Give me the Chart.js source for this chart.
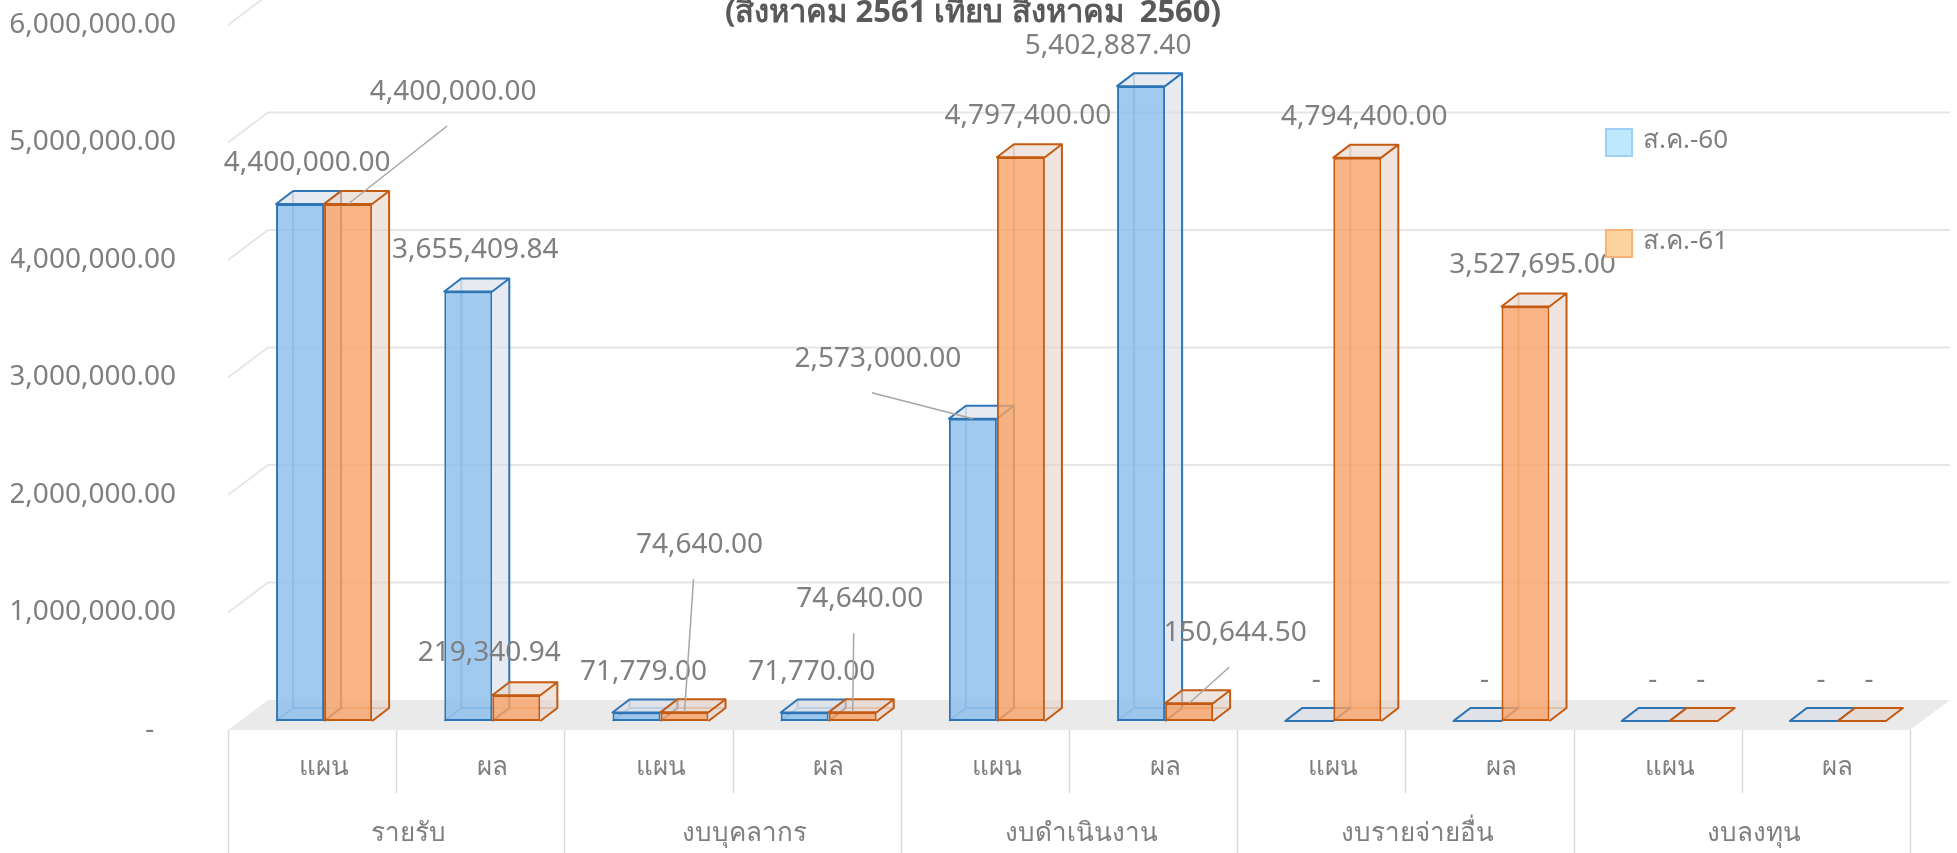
<!DOCTYPE html>
<html>
<head>
<meta charset="utf-8">
<script src="https://cdn.jsdelivr.net/npm/chart.js@4.4.1/dist/chart.umd.min.js"></script>
<style>
  html, body { margin: 0; padding: 0; background: #fff; }
  #contenedor { width: 1957px; height: 853px; position: relative; }
</style>
</head>
<body>
<div id="contenedor"><canvas id="grafico"></canvas></div>
<script>
const GRUPOS = ['รายรับ', 'งบบุคลากร', 'งบดำเนินงาน', 'งบรายจ่ายอื่น', 'งบลงทุน'];
const SUBCATEGORIAS = ['แผน', 'ผล', 'แผน', 'ผล', 'แผน', 'ผล', 'แผน', 'ผล', 'แผน', 'ผล'];
const SERIES = ['ส.ค.-60', 'ส.ค.-61'];
const valores60 = [4400000, 3655409.84, 71779, 71770, 2573000, 5402887.40, 0, 0, 0, 0];
const valores61 = [4400000, 219340.94, 74640, 74640, 4797400, 150644.50, 4794400, 3527695, 0, 0];
const Y_MAX = 6000000;
const Y_PASO = 1000000;
const TITULO = '(สิงหาคม 2561 เทียบ สิงหาคม  2560)';

// etiquetas que no van encima de la barra (dx, dy) y las que llevan linea guia
const corrimientos = [
  [[0, 0], [0, 0], [0, 0], [0, 0], [-102, -19], [-40, 1], [0, 0], [0, 0], [0, 0], [0, 0]],
  [[98, -71], [-34, -1], [8, -126], [0, -72], [0, 0], [39, -29], [0, 0], [0, 0], [0, 0], [0, 0]]
];
const conGuia = [[4], [0, 2, 3, 5]];

const FUENTE = "'Noto Sans', 'DejaVu Sans', sans-serif";
const GRIS = '#7f7f7f';
const PROF = { dx: 17, dy: -13 };
const PARED = { dx: 40, frente: 9, fondo: -21 };
const CORRE = 12;

const estilos = [
  { relleno: 'rgba(136,189,236,0.8)', borde: '#2E75B6', cara: 'rgba(215,222,232,0.6)', leyenda: '#BEE9FC', leyendaBorde: '#9ED0F5' },
  { relleno: 'rgba(248,163,102,0.8)', borde: '#C55A11', cara: 'rgba(230,212,200,0.6)', leyenda: '#FDD49E', leyendaBorde: '#F7B277' }
];

const formato = (v) => v === 0 ? '-' : v.toLocaleString('en-US', { minimumFractionDigits: 2, maximumFractionDigits: 2 });

const dibujarBarra = (ctx, barra, est) => {
  const { x, y, base, width } = barra.getProps(['x', 'y', 'base', 'width'], true);
  const l = x - width / 2;
  const r = x + width / 2;
  const { dx, dy } = PROF;

  // aristas de atras, se ven a traves del frente
  ctx.strokeStyle = est.borde;
  ctx.globalAlpha = 0.45;
  ctx.beginPath();
  ctx.moveTo(l, base);
  ctx.lineTo(l + dx, base + dy);
  ctx.lineTo(r + dx, base + dy);
  ctx.moveTo(l + dx, base + dy);
  ctx.lineTo(l + dx, y + dy);
  ctx.stroke();
  ctx.globalAlpha = 1;

  barra.draw(ctx);

  // costado y tapa
  ctx.fillStyle = est.cara;
  ctx.beginPath();
  ctx.moveTo(r, base);
  ctx.lineTo(r + dx, base + dy);
  ctx.lineTo(r + dx, y + dy);
  ctx.lineTo(l + dx, y + dy);
  ctx.lineTo(l, y);
  ctx.lineTo(r, y);
  ctx.closePath();
  ctx.fill();

  ctx.beginPath();
  ctx.moveTo(l, y);
  ctx.lineTo(l + dx, y + dy);
  ctx.lineTo(r + dx, y + dy);
  ctx.lineTo(r, y);
  ctx.closePath();
  ctx.moveTo(r + dx, y + dy);
  ctx.lineTo(r + dx, base + dy);
  ctx.lineTo(r, base);
  ctx.stroke();
};

const efecto3d = {
  id: 'efecto3d',
  beforeDatasetsDraw(chart) {
    const { ctx, chartArea, scales } = chart;
    const { x, y } = scales;
    const izq = chartArea.left - CORRE;
    const der = chartArea.right - CORRE;
    const cero = y.getPixelForValue(0);
    ctx.save();

    // piso
    ctx.fillStyle = '#EAEAEA';
    ctx.beginPath();
    ctx.moveTo(izq, cero + PARED.frente);
    ctx.lineTo(der, cero + PARED.frente);
    ctx.lineTo(der + PARED.dx, cero + PARED.fondo);
    ctx.lineTo(izq + PARED.dx, cero + PARED.fondo);
    ctx.closePath();
    ctx.fill();

    // grilla en la pared del fondo
    ctx.strokeStyle = '#E6E6E6';
    ctx.lineWidth = 2;
    y.ticks.forEach(t => {
      if (t.value === 0) return;
      const py = y.getPixelForValue(t.value);
      ctx.beginPath();
      ctx.moveTo(izq, py + PARED.frente);
      ctx.lineTo(izq + PARED.dx, py + PARED.fondo);
      ctx.lineTo(der + PARED.dx, py + PARED.fondo);
      ctx.stroke();
    });

    // separadores de categorias
    const ancho = x.getPixelForValue(1) - x.getPixelForValue(0);
    ctx.strokeStyle = '#D9D9D9';
    ctx.lineWidth = 1.5;
    for (let k = 0; k <= SUBCATEGORIAS.length; k++) {
      const px = Math.round(x.getPixelForValue(0) - ancho / 2 + k * ancho - CORRE) + 0.5;
      const fin = k % 2 === 0 ? chart.height : x.bottom + 6;
      ctx.beginPath();
      ctx.moveTo(px, cero + PARED.frente);
      ctx.lineTo(px, fin);
      ctx.stroke();
    }
    ctx.restore();
  },
  beforeDatasetDraw() {
    return false;
  },
  afterDatasetsDraw(chart) {
    const { ctx } = chart;
    const metas = [chart.getDatasetMeta(0), chart.getDatasetMeta(1)];
    ctx.save();
    ctx.lineWidth = 2;
    ctx.lineJoin = 'round';
    for (let i = 0; i < SUBCATEGORIAS.length; i++) {
      metas.forEach((meta, d) => dibujarBarra(ctx, meta.data[i], estilos[d]));
    }

    // etiquetas de valores
    ctx.font = `28px ${FUENTE}`;
    ctx.textAlign = 'center';
    ctx.textBaseline = 'middle';
    metas.forEach((meta, d) => {
      meta.data.forEach((barra, i) => {
        const valor = chart.data.datasets[d].data[i];
        const [cx, cy] = corrimientos[d][i];
        const lx = barra.x + 7 + cx;
        const ly = barra.y - 41 + cy;
        if (conGuia[d].includes(i)) {
          ctx.strokeStyle = '#A6A6A6';
          ctx.lineWidth = 1.5;
          ctx.beginPath();
          ctx.moveTo(lx - 6, ly + 34);
          ctx.lineTo(barra.x, barra.y);
          ctx.stroke();
        }
        ctx.fillStyle = GRIS;
        ctx.fillText(formato(valor), lx, ly);
      });
    });
    ctx.restore();
  },
  afterDraw(chart) {
    const { ctx } = chart;
    ctx.save();
    // titulo (cortado arriba como en la imagen)
    ctx.font = `bold 31px ${FUENTE}`;
    ctx.fillStyle = '#595959';
    ctx.textAlign = 'center';
    ctx.textBaseline = 'alphabetic';
    ctx.fillText(TITULO, 973, 22);

    // leyenda
    ctx.font = `26px ${FUENTE}`;
    ctx.textAlign = 'left';
    ctx.textBaseline = 'middle';
    chart.data.datasets.forEach((ds, d) => {
      const top = 129 + d * 101;
      ctx.fillStyle = estilos[d].leyenda;
      ctx.strokeStyle = estilos[d].leyendaBorde;
      ctx.lineWidth = 2;
      ctx.fillRect(1606, top, 26, 27);
      ctx.strokeRect(1606, top, 26, 27);
      ctx.fillStyle = GRIS;
      ctx.fillText(ds.label, 1643, top + 12);
    });
    ctx.restore();
  }
};

const ticksX = { color: GRIS, font: { family: FUENTE, size: 26 }, padding: 23, maxRotation: 0, autoSkip: false };

new Chart(document.getElementById('grafico'), {
  type: 'bar',
  data: {
    labels: SUBCATEGORIAS,
    datasets: SERIES.map((nombre, d) => ({
      label: nombre,
      data: d === 0 ? valores60 : valores61,
      backgroundColor: estilos[d].relleno,
      borderColor: estilos[d].borde,
      borderWidth: 2,
      borderSkipped: false,
      categoryPercentage: 0.571,
      barPercentage: 1,
      xAxisID: 'x'
    }))
  },
  options: {
    responsive: true,
    maintainAspectRatio: false,
    animation: false,
    layout: { padding: { left: 11, right: 35, top: 16, bottom: 0 } },
    plugins: {
      legend: { display: false },
      title: { display: false },
      tooltip: { enabled: false }
    },
    scales: {
      x: {
        type: 'category',
        weight: 0,
        grid: { display: false },
        border: { display: false },
        ticks: ticksX,
        afterFit: (s) => { s.height = 66; }
      },
      x2: {
        type: 'category',
        labels: GRUPOS,
        position: 'bottom',
        offset: true,
        weight: 1,
        grid: { display: false },
        border: { display: false },
        ticks: ticksX,
        afterFit: (s) => { s.height = 66; }
      },
      y: {
        min: 0,
        max: Y_MAX,
        grid: { display: false, drawTicks: false },
        border: { display: false },
        ticks: {
          stepSize: Y_PASO,
          labelOffset: 9,
          padding: 64,
          color: GRIS,
          font: { family: FUENTE, size: 28 },
          callback: (v) => v === 0 ? '-   ' : formato(v)
        },
        afterFit: (s) => {
          s.width = 229;
          s.paddingTop = 0;
          s.paddingBottom = 0;
        }
      }
    }
  },
  plugins: [efecto3d]
});
</script>
</body>
</html>
